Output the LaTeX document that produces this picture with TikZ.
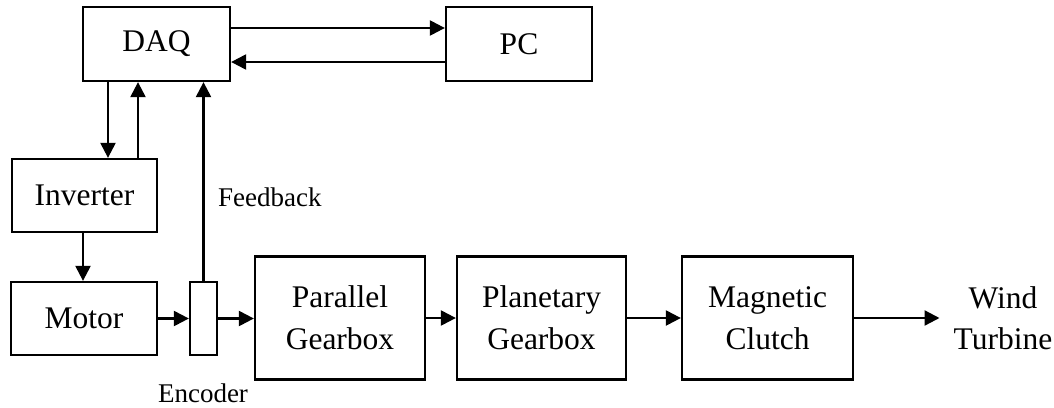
\documentclass[tikz,border=0pt]{standalone}
\usepackage{fontspec}
\setmainfont{Liberation Serif}
\usetikzlibrary{arrows.meta}
\begin{document}
\begin{tikzpicture}[x=1pt,y=-1pt,
  blk/.style={draw, line width=2.3pt, inner sep=0pt, align=center,
    font=\fontsize{31.5}{42}\selectfont},
  lbl/.style={inner sep=0pt, font=\fontsize{27}{32}\selectfont},
  arr/.style={line width=2.3pt, -{Triangle[length=15pt,width=15pt]}}]
\useasboundingbox (0,0) rectangle (1054,407);
% control and measurement
\node[blk, minimum width=147pt, minimum height=74pt] (daq) at (156.5,44) {DAQ};
\node[blk, minimum width=146pt, minimum height=74pt] (pc)  at (519,44) {PC};
\node[blk, minimum width=145pt, minimum height=73pt] (inv) at (84.5,195.5) {Inverter};
% drive train
\node[blk, minimum width=146pt, minimum height=73pt] (mot) at (84,318.5) {Motor};
\node[blk, minimum width=27pt, minimum height=73pt] (enc) at (203.5,318.5) {};
\node[blk, minimum width=170pt, minimum height=123pt] (par) at (340,318) {Parallel\\Gearbox};
\node[blk, minimum width=169pt, minimum height=123pt] (pla) at (541.5,318) {Planetary\\Gearbox};
\node[blk, minimum width=171pt, minimum height=123pt] (mag) at (767.5,318) {Magnetic\\Clutch};
\node[align=center, inner xsep=14pt, inner ysep=0pt,
  font=\fontsize{31.5}{41}\selectfont] (wt) at (1003,318) {Wind\\Turbine};
% labels
\node[lbl, anchor=west] (fbl) at (218,197) {Feedback};
\node[lbl] (encl) at (203,393) {Encoder};
% signal paths
\draw[arr] ([yshift=16pt]daq.east) -- ([yshift=16pt]pc.west);
\draw[arr] ([yshift=-18pt]pc.west) -- ([yshift=-18pt]daq.east);
\draw[arr] ([xshift=-48.5pt]daq.south) -- ([xshift=-48.5pt]daq.south |- inv.north);
\draw[arr] ([xshift=-18.5pt]daq.south |- inv.north) -- ([xshift=-18.5pt]daq.south);
\draw[arr] (enc.north) -- (enc.north |- daq.south);
\draw[arr] ([xshift=-1.5pt]inv.south) -- ([xshift=-1.5pt]inv.south |- mot.north);
% power flow
\draw[arr] (mot.east) -- (enc.west);
\draw[arr] (enc.east) -- (enc.east -| par.west);
\draw[arr] (par.east) -- (pla.west);
\draw[arr] (pla.east) -- (mag.west);
\draw[arr] (mag.east) -- (wt.west);
\end{tikzpicture}
\end{document}
